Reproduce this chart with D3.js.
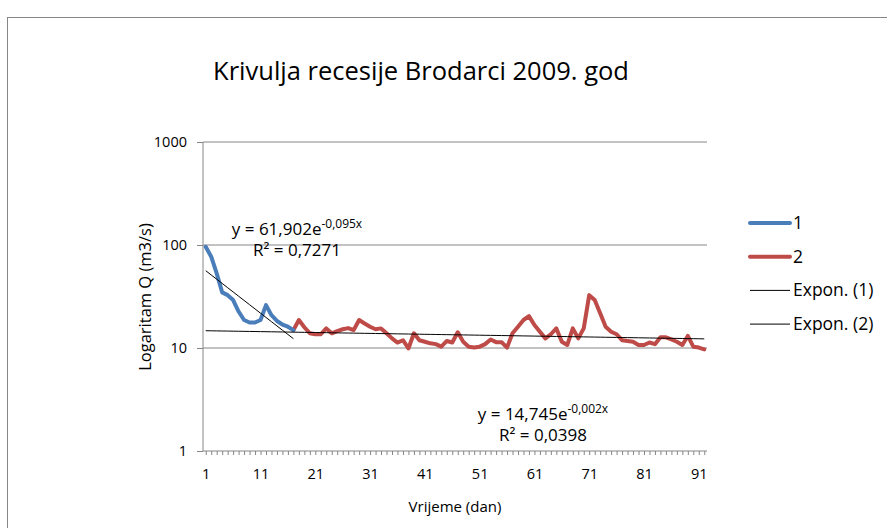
<!DOCTYPE html>
<html>
<head>
<meta charset="utf-8">
<script src="https://cdn.jsdelivr.net/npm/d3@7"></script>
<style>
  body { margin: 0; background: #fff; }
  svg { font-family: "Open Sans", "DejaVu Sans", sans-serif; }
  .axis path, .axis line { stroke: #868686; }
  .axis text { font-size: 14.5px; fill: #000; font-family: "Open Sans", sans-serif; }
</style>
</head>
<body>
<svg width="887" height="528"></svg>
<script>
// dani 1..92
var days = d3.range(1, 93);

// serija 1 (dani 1-17)
var series1 = [96, 77, 53, 34.7, 32.6, 29.2, 22.6, 18.7, 17.7, 17.7, 18.7, 26.1, 20.8, 18.3, 16.9, 16.1, 14.9];

// serija 2 (dani 17-92)
var series2 = [14.9, 18.7, 15.9, 13.9, 13.6, 13.6, 15.5, 13.9, 14.6, 15.2,
  15.6, 14.9, 18.7, 17.3, 16.1, 15.2, 15.5, 13.9, 12.4, 11.3,
  11.9, 9.9, 13.9, 11.9, 11.5, 11.1, 10.9, 10.3, 11.7, 11.3,
  14.2, 11.5, 10.3, 10.1, 10.3, 10.9, 12.1, 11.4, 11.4, 10.1,
  13.9, 16.1, 18.7, 20.4, 16.7, 14.4, 12.4, 13.6, 15.5, 11.5,
  10.7, 15.5, 12.4, 15.5, 32.6, 29.2, 21.7, 16.1, 14.4, 13.6,
  11.9, 11.7, 11.5, 10.7, 10.7, 11.3, 10.9, 12.7, 12.7, 12.1,
  11.5, 10.7, 13.1, 10.3, 10.1, 9.7];
var series2Start = 17;

// eksponencijalni trendovi: [a, b] za y = a*e^(b*x), [od, do]
var trend1 = [61.902, -0.095], trend1Range = [1, 17];
var trend2 = [14.745, -0.002], trend2Range = [1, 92];

var yTicks = [1, 10, 100, 1000];
var xLabels = [1, 11, 21, 31, 41, 51, 61, 71, 81, 91];

var svg = d3.select("svg"),
    pLeft = 203, pRight = 707, pTop = 142, pBottom = 451;

// okvir grafikona
svg.append("rect")
    .attr("x", 7.5).attr("y", 17.5)
    .attr("width", 900).attr("height", 540)
    .attr("fill", "#fff").attr("stroke", "#868686");

var x = d3.scalePoint().domain(days).range([pLeft, pRight]).padding(0.5);
var y = d3.scaleLog().domain([1, 1000]).range([pBottom, pTop]);

// mreza
svg.append("g").selectAll("line")
    .data(yTicks.slice(1)).enter().append("line")
    .attr("x1", pLeft).attr("x2", pRight)
    .attr("y1", d => y(d)).attr("y2", d => y(d))
    .attr("stroke", "#868686");

// y os
svg.append("g")
    .attr("class", "axis")
    .attr("transform", "translate(" + pLeft + ",0)")
    .call(d3.axisLeft(y).tickValues(yTicks).tickFormat(d3.format("d")).tickSize(6).tickPadding(10))
    .call(g => g.select(".domain").attr("d", "M0," + pTop + "V" + pBottom));

// x os
svg.append("g")
    .attr("class", "axis")
    .attr("transform", "translate(0," + pBottom + ")")
    .call(d3.axisBottom(x).tickValues(days)
        .tickFormat(d => xLabels.indexOf(d) >= 0 ? d : "")
        .tickSize(4).tickPadding(14))
    .call(g => g.select(".domain").attr("d", "M" + pLeft + ",0H" + pRight));

var line = d3.line()
    .x(d => x(d[0]))
    .y(d => y(d[1]));

var s1 = series1.map((v, i) => [i + 1, v]);
var s2 = series2.map((v, i) => [i + series2Start, v]);

svg.append("path").datum(s2)
    .attr("d", line).attr("fill", "none")
    .attr("stroke", "#BE4B48").attr("stroke-width", 4)
    .attr("stroke-linejoin", "round").attr("stroke-linecap", "round");

svg.append("path").datum(s1)
    .attr("d", line).attr("fill", "none")
    .attr("stroke", "#4A7EBB").attr("stroke-width", 4)
    .attr("stroke-linejoin", "round").attr("stroke-linecap", "round");

// trend linije
function trendPts(t, r) {
  return d3.range(r[0], r[1] + 1).map(d => [d, t[0] * Math.exp(t[1] * d)]);
}
svg.append("path").datum(trendPts(trend1, trend1Range))
    .attr("d", line).attr("fill", "none").attr("stroke", "#000").attr("stroke-width", 1);
svg.append("path").datum(trendPts(trend2, trend2Range))
    .attr("d", line).attr("fill", "none").attr("stroke", "#000").attr("stroke-width", 1);

// jednadzbe
function eq(xc, yc, a, b, r2) {
  var t = svg.append("text").attr("x", xc).attr("y", yc)
      .attr("text-anchor", "middle").style("font-size", "17px");
  t.append("tspan").text("y = " + a + "e");
  t.append("tspan").attr("dy", -7).style("font-size", "12px").text(b + "x");
  svg.append("text").attr("x", xc).attr("y", yc + 21)
      .attr("text-anchor", "middle").style("font-size", "17px")
      .text("R² = " + r2);
}
eq(297, 235, "61,902", "-0,095", "0,7271");
eq(543, 420, "14,745", "-0,002", "0,0398");

// naslov
svg.append("text").attr("x", 421).attr("y", 80)
    .attr("text-anchor", "middle").style("font-size", "25.5px")
    .text("Krivulja recesije Brodarci 2009. god");

// naslovi osi
svg.append("text").attr("x", 455).attr("y", 512)
    .attr("text-anchor", "middle").style("font-size", "15px")
    .text("Vrijeme (dan)");
svg.append("text")
    .attr("transform", "translate(151,297) rotate(-90)")
    .attr("text-anchor", "middle").style("font-size", "16.5px")
    .text("Logaritam Q (m3/s)");

// legenda
var legend = [
  {name: "1", color: "#4A7EBB", w: 4},
  {name: "2", color: "#BE4B48", w: 4},
  {name: "Expon. (1)", color: "#000", w: 1},
  {name: "Expon. (2)", color: "#000", w: 1}
];
var lg = svg.append("g").selectAll("g").data(legend).enter().append("g")
    .attr("transform", (d, i) => "translate(750," + (223 + i * 33.7) + ")");
lg.append("line").attr("x1", 0).attr("x2", 40)
    .attr("stroke", d => d.color).attr("stroke-width", d => d.w)
    .attr("stroke-linecap", d => d.w > 1 ? "round" : "butt");
lg.append("text").attr("x", 43).attr("y", 6).style("font-size", "17.5px")
    .text(d => d.name);
</script>
</body>
</html>
